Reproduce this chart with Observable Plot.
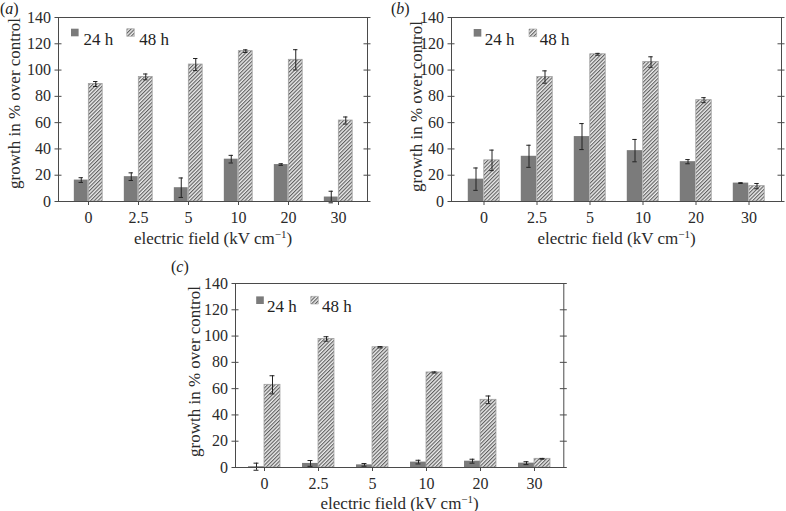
<!DOCTYPE html>
<html><head><meta charset="utf-8">
<script src="https://cdn.jsdelivr.net/npm/d3@7"></script>
<script src="https://cdn.jsdelivr.net/npm/@observablehq/plot@0.6"></script>
<style>
body{margin:0;background:#fff;}
#root{position:relative;width:786px;height:511px;overflow:hidden;font-family:"Liberation Serif",serif;}
.panel{position:absolute;}
.letter{position:absolute;font-size:16px;color:#222;font-family:"Liberation Serif",serif;}
</style></head><body><div id="root"></div>
<script>
// ---- data ----
const fields = ["0", "2.5", "5", "10", "20", "30"];
const seriesNames = ["24 h", "48 h"];
const yTicks = [0, 20, 40, 60, 80, 100, 120, 140];
const panelLetters = ["a", "b", "c"];
const yLabel = "growth in % over control";
const xLabel = "electric field (kV cm\u22121)";

const a24 = [16.3, 18.9, 10.5, 32.2, 28.1, 3.4];
const a24err = [1.8, 2.9, 7.4, 2.9, 0.6, 4.4];
const a48 = [89.4, 94.8, 104.2, 114.4, 107.8, 61.6];
const a48err = [1.9, 2.2, 4.6, 1.0, 7.7, 2.7];

const b24 = [17.0, 34.4, 49.4, 38.7, 30.3, 14.0];
const b24err = [8.5, 8.4, 9.9, 8.5, 1.6, 0.3];
const b48 = [31.3, 94.7, 112.0, 106.1, 77.1, 11.7];
const b48err = [7.8, 4.7, 0.7, 4.0, 1.9, 2.0];

const c24 = [0.6, 3.1, 2.0, 4.1, 4.8, 3.3];
const c24err = [2.7, 2.2, 1.0, 1.4, 1.5, 1.1];
const c48 = [62.9, 97.8, 91.5, 72.3, 51.5, 6.6];
const c48err = [6.9, 1.7, 0.5, 0.4, 2.9, 0.3];

// ---- drawing ----
const root = document.getElementById("root");
const ink = "#222";
const axisInk = "#4a4a4a";
const serif = "Liberation Serif";

function errorMarks(rows, key, ekey, dx, half, cap) {
  const opts = {x: "field", dx, stroke: ink, strokeWidth: 1};
  return [
    Plot.ruleX(rows, {...opts, y1: d => d[key] - d[ekey], y2: d => d[key] + d[ekey]}),
    Plot.tickY(rows, {...opts, y: d => d[key] + d[ekey], insetLeft: half - cap, insetRight: half - cap}),
    Plot.tickY(rows, {...opts, y: d => d[key] - d[ekey], insetLeft: half - cap, insetRight: half - cap})
  ];
}

function panel(id, v24, e24, v48, e48, lay) {
  const rows = fields.map((f, i) => ({field: f, v24: v24[i], e24: e24[i], v48: v48[i], e48: e48[i]}));
  const plotW = lay.width - lay.mL - lay.mR;
  const bw = plotW / (6 + 2 * lay.pad);
  const half = bw / 2;
  const bar = lay.barW;
  const hatch = `url(#hatch-${id})`;
  const lg = lay.legend;
  const svg = Plot.plot({
    width: lay.width, height: lay.height,
    marginLeft: lay.mL, marginRight: lay.mR, marginTop: lay.mT, marginBottom: lay.mB,
    style: {fontFamily: serif, fontSize: "16px", color: "#2a2a2a", background: "transparent", overflow: "visible"},
    x: {type: "band", domain: fields, paddingInner: 0, paddingOuter: lay.pad},
    y: {type: "linear", domain: [0, 140]},
    marks: [
      Plot.barY(rows, {x: "field", y: "v24", fill: "#7b7b7b", insetLeft: half - bar, insetRight: half}),
      Plot.barY(rows, {x: "field", y: "v48", fill: hatch, stroke: "#a0a0a0", strokeWidth: 0.8, insetLeft: half, insetRight: half - bar}),
      ...errorMarks(rows, "v24", "e24", -bar / 2, half, 2.5),
      ...errorMarks(rows, "v48", "e48", bar / 2, half, 2.5),
      Plot.tickY(yTicks, {y: d => d, insetRight: plotW - 3.5, stroke: axisInk}),
      Plot.tickY(yTicks, {y: d => d, insetLeft: plotW - 3.5, insetRight: -3.5, stroke: axisInk}),
      Plot.axisY({ticks: yTicks, tickSize: 3.5, tickPadding: 4, stroke: axisInk, fontFamily: serif, fontSize: 16,
        label: yLabel, labelAnchor: "center", labelOffset: lay.yOff, labelArrow: "none"}),
      Plot.axisX({tickSize: 4, tickPadding: 6, stroke: axisInk, fontFamily: serif, fontSize: 16,
        label: xLabel, labelAnchor: "center", labelOffset: lay.xOff, labelArrow: "none"}),
      Plot.frame({stroke: axisInk}),
      // legend
      Plot.dot([seriesNames[0]], {frameAnchor: "top-left", dx: lg[0], dy: lg[4], symbol: "square", r: 4.3, fill: "#7b7b7b"}),
      Plot.text([seriesNames[0]], {text: d => d, frameAnchor: "top-left", dx: lg[1], dy: lg[4], textAnchor: "start", fontSize: 17, fontFamily: serif, fill: "#222"}),
      Plot.dot([seriesNames[1]], {frameAnchor: "top-left", dx: lg[2], dy: lg[4], symbol: "square", r: 4.3, fill: hatch, stroke: "#a0a0a0", strokeWidth: 0.6}),
      Plot.text([seriesNames[1]], {text: d => d, frameAnchor: "top-left", dx: lg[3], dy: lg[4], textAnchor: "start", fontSize: 17, fontFamily: serif, fill: "#222"})
    ]
  });
  // hatch pattern
  const defs = d3.select(svg).insert("defs", ":first-child");
  const pat = defs.append("pattern").attr("id", `hatch-${id}`).attr("patternUnits", "userSpaceOnUse")
    .attr("width", 2.6).attr("height", 2.6).attr("patternTransform", "rotate(45)");
  pat.append("rect").attr("width", 2.6).attr("height", 2.6).attr("fill", "#ececec");
  pat.append("line").attr("x1", 0.6).attr("y1", -1).attr("x2", 0.6).attr("y2", 4).attr("stroke", "#4d4d4d").attr("stroke-width", 1);
  // axis titles: larger font, superscript, small shift
  d3.select(svg).selectAll("text").each(function() {
    if (this.textContent === xLabel) {
      const t = d3.select(this);
      t.text(null).attr("font-size", "17px");
      t.append("tspan").text("electric field (kV cm");
      t.append("tspan").attr("dy", "-6").attr("font-size", "11px").text("\u22121");
      t.append("tspan").attr("dy", "6").text(")");
    } else if (this.textContent === yLabel) {
      d3.select(this).attr("font-size", "17px").attr("dx", lay.yShift);
    }
  });
  const div = document.createElement("div");
  div.className = "panel";
  div.style.left = lay.left + "px";
  div.style.top = lay.top + "px";
  div.appendChild(svg);
  root.appendChild(div);
  const L = document.createElement("div");
  L.className = "letter";
  L.style.left = lay.letter[0] + "px";
  L.style.top = lay.letter[1] + "px";
  L.innerHTML = `(<i>${id}</i>)`;
  root.appendChild(L);
}

panel(panelLetters[0], a24, a24err, a48, a48err,
  {left: 0, top: 0, width: 390, height: 250, mL: 58, mR: 23, mT: 17, mB: 49, pad: 0.05, barW: 14.5,
   yOff: 51, yShift: 6, xOff: 42, legend: [16.3, 25, 72, 80.7, 15], letter: [0, 0]});
panel(panelLetters[1], b24, b24err, b48, b48err,
  {left: 390, top: 0, width: 396, height: 250, mL: 61, mR: 5, mT: 17, mB: 49, pad: 0.08, barW: 16,
   yOff: 42, yShift: 3, xOff: 42, legend: [26, 33.3, 81.3, 88.3, 15.3], letter: [391, 0]});
panel(panelLetters[2], c24, c24err, c48, c48err,
  {left: 176, top: 266, width: 400, height: 245, mL: 59, mR: 12.7, mT: 17, mB: 44, pad: 0.037, barW: 16,
   yOff: 48, yShift: 4, xOff: 41, legend: [24.5, 31.6, 79, 86.6, 16.7], letter: [171, 258]});
</script>
</body></html>
